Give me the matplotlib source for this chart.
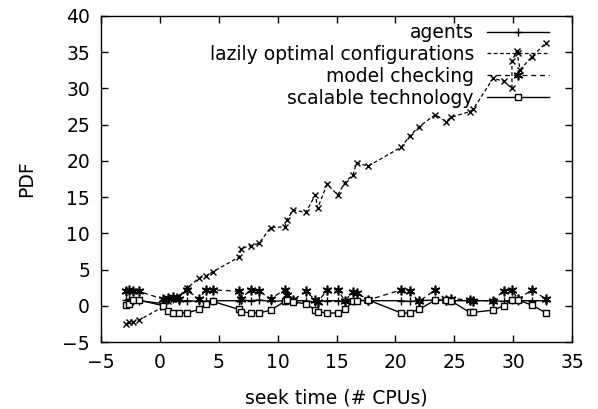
import matplotlib
matplotlib.use("Agg")
import matplotlib.pyplot as plt

x = [-2.9, -2.6, -2.3, -1.8, 0.3, 0.7, 1.1, 1.6, 2.3, 3.3, 3.9, 4.5, 6.7, 6.9, 7.7,
     8.4, 9.4, 10.6, 10.8, 11.3, 12.4, 13.2, 13.4, 14.2, 15.1, 15.7, 16.4, 16.7, 17.7,
     20.5, 21.2, 22.0, 23.4, 24.3, 24.7, 26.3, 26.6, 28.3, 29.2, 29.9, 30.4, 31.6, 32.8]

agents = [0.8, 0.9, 0.7, 0.7, 0.3, 0.8, 0.9, 0.7, 0.7, 0.6, 0.6, 0.7, 0.7, 0.8, 0.7,
          0.8, 0.6, 0.7, 0.9, 0.7, 0.7, 0.5, 0.6, 0.7, 0.7, 0.6, 0.7, 0.8, 0.7,
          0.7, 0.6, 0.7, 0.8, 0.7, 0.7, 0.7, 0.7, 0.7, 0.6, 0.8, 0.7, 0.7, 0.7]

lazy_x = [-2.9, -2.6, -2.3, -1.8, 0.3, 0.7, 1.1, 1.6, 2.3, 3.3, 3.9, 4.5, 6.7, 6.9, 7.7,
          8.4, 9.4, 10.6, 10.8, 11.3, 12.4, 13.2, 13.4, 14.2, 15.1, 15.7, 16.4, 16.7, 17.7,
          20.5, 21.2, 22.0, 23.4, 24.3, 24.7, 26.3, 26.6, 28.3, 29.2, 29.9, 29.9, 30.3, 30.6,
          31.6, 32.8]
lazy = [-2.5, -2.3, -2.2, -2.0, -0.1, 0.6, 1.0, 1.3, 2.4, 3.8, 4.1, 4.7, 6.7, 7.9, 8.3,
        8.6, 10.8, 10.9, 11.9, 13.2, 12.9, 15.3, 13.5, 16.8, 15.3, 17.0, 18.1, 19.7, 19.3,
        21.9, 23.4, 24.7, 26.4, 25.4, 26.0, 26.8, 27.1, 31.4, 31.0, 30.0, 33.8, 35.1, 32.6,
        34.4, 36.3]

model = [2.1, 2.2, 2.1, 2.0, 0.9, 1.1, 1.2, 1.0, 2.2, 0.9, 2.2, 2.2, 2.0, 1.0, 2.2,
         2.0, 1.0, 2.2, 1.5, 0.8, 2.0, 0.8, 0.5, 2.2, 2.2, 0.7, 1.9, 1.8, 0.8,
         2.2, 2.0, 0.6, 2.2, 0.8, 1.0, 0.8, 0.7, 0.7, 2.1, 2.2, 0.9, 2.2, 0.9]

scalable = [0.1, 0.3, 0.8, 0.8, 0.0, -0.7, -1.0, -1.0, -1.0, -0.5, 0.3, 0.6, -0.5, -0.8, -1.0,
            -1.0, -0.6, 0.6, 0.8, 0.5, 0.3, -0.6, -0.8, -1.0, -1.0, -0.5, 0.6, 0.6, 0.8,
            -1.0, -1.0, -0.5, 0.8, 0.8, 0.7, -0.9, -0.9, -0.6, 0.0, 0.8, 0.8, 0.1, -1.0]

labels = ["agents", "lazily optimal configurations", "model checking", "scalable technology"]
xticks = list(range(-5, 36, 5))
yticks = list(range(-5, 41, 5))

FS = 13.5
plt.rcParams['font.family'] = ['DejaVu Sans']
fig = plt.figure(figsize=(5.98, 4.09), dpi=100)
ax = fig.add_axes([0.169, 0.1638, 0.7875, 0.7971])

ax.plot(x, agents, color='black', lw=1.0, ls='-', marker='+', ms=6, mew=1.0, label=labels[0])
ax.plot(lazy_x, lazy, color='black', lw=0.9, ls=(0, (3, 2)), marker='x', ms=5, mew=1.0, label=labels[1])
ax.plot(x, model, color='black', lw=0.9, ls=(0, (4, 3)), marker=(6, 2, 0), ms=7, mew=1.2, label=labels[2])
ax.plot(x, scalable, color='black', lw=1.0, ls='-', marker='s', ms=4, mfc='white', mew=1.0, label=labels[3])

ax.set_xlim(-5, 35)
ax.set_ylim(-5, 40)
ax.set_xticks(xticks)
ax.set_yticks(yticks)
ax.tick_params(direction='in', length=5, width=1, top=True, right=True, labelsize=FS, pad=8)
for s in ax.spines.values():
    s.set_linewidth(1.0)
ax.set_xlabel("seek time (# CPUs)", fontsize=FS, labelpad=12)
ax.set_ylabel("PDF", fontsize=FS, labelpad=19)

ax.legend(loc='upper right', bbox_to_anchor=(0.955, 0.984), frameon=False, markerfirst=False,
          fontsize=FS, handlelength=3.3, handletextpad=0.7, labelspacing=0.15,
          borderaxespad=0.0, borderpad=0.1)

fig.savefig("out.png", dpi=100)
